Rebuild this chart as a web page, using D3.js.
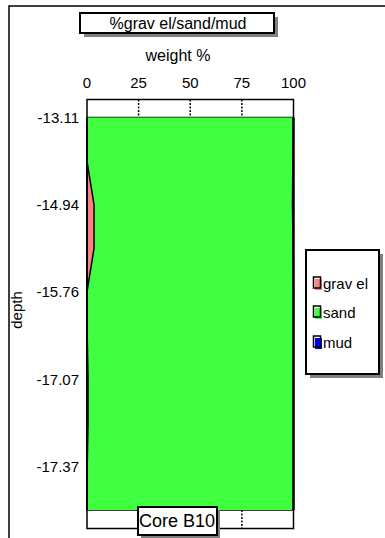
<!DOCTYPE html>
<html>
<head>
<meta charset="utf-8">
<script src="https://cdn.jsdelivr.net/npm/d3@7"></script>
<style>
  html, body { margin: 0; padding: 0; background: #fff; }
  svg { display: block; font-family: "Liberation Sans", Arial, sans-serif; }
</style>
</head>
<body>
<svg id="chart" width="385" height="538"></svg>
<script>
// Core B10 grain-size profile: samples down the core, equally spaced
const sampleNo = [1, 2, 3, 4, 5, 6, 7, 8, 9, 10];
const gravel   = [0, 0, 3.4, 3.4, 0, 0.1, 0.5, 0.5, 0.1, 0];
const mud      = [0, 0.3, 0.5, 0.2, 0, 0, 0, 0, 0, 0];
const sand     = sampleNo.map((_, i) => 100 - gravel[i] - mud[i]);

// depth labels shown on every other sample
const depthTickSamples = [1, 3, 5, 7, 9];
const depthTickLabels  = ["-13.11", "-14.94", "-15.76", "-17.07", "-17.37"];
const pctTicks = [0, 25, 50, 75, 100];

const seriesNames  = ["grav el", "sand", "mud"];
const seriesColors = ["#FF8080", "#40FF40", "#0000F0"];

const svg = d3.select("#chart");
const FONT = 15;

// outer frame
svg.append("rect")
  .attr("x", 9).attr("y", 6).attr("width", 420).attr("height", 600)
  .attr("fill", "none").attr("stroke", "#000").attr("stroke-width", 1.5);

// boxed text with drop shadow
function shadowBox(x, y, w, h, off) {
  svg.append("rect").attr("x", x + off).attr("y", y + off)
    .attr("width", w).attr("height", h).attr("fill", "#808080");
  svg.append("rect").attr("x", x).attr("y", y)
    .attr("width", w).attr("height", h)
    .attr("fill", "#fff").attr("stroke", "#000").attr("stroke-width", 2);
}

// scales
const x = d3.scaleLinear().domain([0, 100]).range([87, 293.5]);
const y = d3.scaleLinear().domain([1, 10]).range([117.5, 510]);
const bandTop = [99.5, 117.5], bandBot = [510, 528.5];

// title
shadowBox(80, 13, 194, 20, 4);
svg.append("text").attr("x", 178).attr("y", 29)
  .attr("text-anchor", "middle").attr("font-size", 16)
  .text("%grav el/sand/mud");

svg.append("text").attr("x", 178).attr("y", 61)
  .attr("text-anchor", "middle").attr("font-size", 16)
  .text("weight %");

// percentage tick labels
svg.append("g").selectAll("text").data(pctTicks).join("text")
  .attr("x", d => x(d)).attr("y", 88)
  .attr("text-anchor", "middle").attr("font-size", FONT)
  .text(d => d);

// white end bands with dotted ticks
[bandTop, bandBot].forEach(b => {
  svg.append("rect")
    .attr("x", x(0)).attr("y", b[0])
    .attr("width", x(100) - x(0)).attr("height", b[1] - b[0])
    .attr("fill", "#fff").attr("stroke", "#000").attr("stroke-width", 1.5);
  svg.append("g").selectAll("line").data(pctTicks.slice(1, 4)).join("line")
    .attr("x1", d => x(d)).attr("x2", d => x(d))
    .attr("y1", b[0]).attr("y2", b[1])
    .attr("stroke", "#000").attr("stroke-width", 1.5)
    .attr("stroke-dasharray", "2,1.5");
});

// stacked areas, oriented vertically
const rows = sampleNo.map((s, i) => ({
  s, g0: 0, g1: gravel[i],
  s0: gravel[i], s1: gravel[i] + sand[i],
  m0: gravel[i] + sand[i], m1: 100
}));
const layers = [["g0", "g1"], ["s0", "s1"], ["m0", "m1"]];
layers.forEach((k, i) => {
  const area = d3.area()
    .y(d => y(d.s))
    .x0(d => x(d[k[0]]))
    .x1(d => x(d[k[1]]));
  svg.append("path").datum(rows)
    .attr("d", area)
    .attr("fill", seriesColors[i])
    .attr("stroke", "none");
});
// boundary lines between layers
["g1", "s1"].forEach(k => {
  const line = d3.line().x(d => x(d[k])).y(d => y(d.s));
  svg.append("path").datum(rows).attr("d", line)
    .attr("fill", "none").attr("stroke", "#000").attr("stroke-width", 1.5);
});
// side edges of the profile
svg.append("line").attr("x1", x(0)).attr("x2", x(0))
  .attr("y1", y(1)).attr("y2", y(10))
  .attr("stroke", "#000").attr("stroke-width", 2);
svg.append("line").attr("x1", x(100)).attr("x2", x(100))
  .attr("y1", y(1)).attr("y2", y(10))
  .attr("stroke", "#000").attr("stroke-width", 2.5);

// depth labels
svg.append("g").selectAll("text").data(depthTickSamples).join("text")
  .attr("x", 79).attr("y", d => y(d) + 5.5)
  .attr("text-anchor", "end").attr("font-size", FONT)
  .text((d, i) => depthTickLabels[i]);

svg.append("text")
  .attr("transform", "translate(22,310) rotate(-90)")
  .attr("text-anchor", "middle").attr("font-size", FONT)
  .text("depth");

// legend
shadowBox(306, 250, 73, 124, 4);
const legendY = [284, 313, 343];
seriesNames.forEach((name, i) => {
  const ly = legendY[i];
  svg.append("rect").attr("x", 315).attr("y", ly - 5)
    .attr("width", 7).attr("height", 11).attr("fill", seriesColors[i]);
  svg.append("rect").attr("x", 313.5).attr("y", ly - 7)
    .attr("width", 7).attr("height", 11)
    .attr("fill", "none").attr("stroke", "#000").attr("stroke-width", 1.5);
  svg.append("text").attr("x", 323).attr("y", ly + 5)
    .attr("font-size", FONT).text(name);
});

// core name box
shadowBox(138, 507, 79, 28, 3);
svg.append("text").attr("x", 177).attr("y", 527)
  .attr("text-anchor", "middle").attr("font-size", 18)
  .text("Core B10");
</script>
</body>
</html>
